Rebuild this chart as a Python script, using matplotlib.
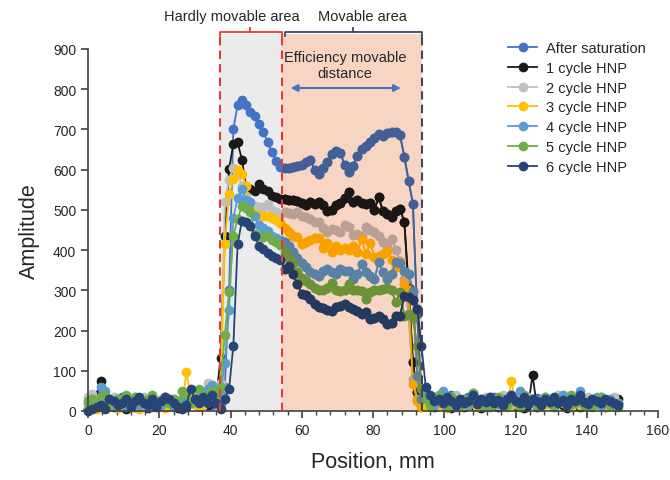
import numpy as np
import matplotlib as mpl
mpl.use('Agg')
import matplotlib.pyplot as plt
from matplotlib.patches import Rectangle, FancyArrowPatch
from matplotlib.colors import to_rgb

plt.rcParams['font.family'] = ['Liberation Sans', 'DejaVu Sans']

# scan positions, mm (about 1.2 mm step, 125 points)
position = np.arange(125) * 1.2

labels = ["After saturation", "1 cycle HNP", "2 cycle HNP", "3 cycle HNP",
          "4 cycle HNP", "5 cycle HNP", "6 cycle HNP"]
colors = ["#4472C4", "#1A1A1A", "#BFBFBF", "#FFC000", "#5B9BD5", "#70AD47", "#264478"]

# each series: left baseline (0-35 mm), sample region (36-94 mm), right baseline (95-149 mm)
after_sat_left = [5, 10, 25, 35, 30, 20, 15, 28, 35, 25, 18, 30, 22, 15, 25, 32, 20, 12, 18, 28,
                  25, 15, 20, 30, 22, 18, 25, 30, 20, 15]
after_sat_mid = [25, 20, 60, 300, 700, 762, 772, 760, 744, 734, 714, 693, 670, 643, 622, 606, 604, 605,
                 606, 608, 612, 620, 624, 600, 590, 605, 620, 638, 647, 642, 612, 593, 610, 635, 652,
                 658, 670, 678, 688, 684, 692, 694, 694, 685, 632, 572, 515, 240, 40]
after_sat_right = [30, 20, 35, 25, 15, 30, 40, 22, 18, 28, 35, 20, 25, 30, 15, 22, 35, 28, 20, 18,
                   30, 25, 35, 20, 15, 28, 32, 22, 18, 25, 30, 20, 35, 28, 15, 22, 30, 25, 18, 20,
                   28, 35, 22, 15, 25, 20]

cyc1_left = [5, 15, 40, 75, 30, 20, 10, 25, 15, 5, 20, 10, 25, 15, 8, 20, 12, 25, 10, 18,
             15, 8, 22, 10, 25, 30, 12, 20, 15, 25]
cyc1_mid = [30, 133, 435, 602, 664, 668, 625, 556, 552, 546, 564, 552, 548, 535, 531, 527, 526, 524,
            524, 522, 518, 512, 519, 514, 519, 512, 498, 500, 513, 516, 530, 545, 520, 524, 518,
            514, 516, 500, 532, 496, 490, 482, 496, 502, 470, 305, 121, 46, 20]
cyc1_right = [15, 25, 10, 20, 30, 12, 8, 22, 18, 10, 25, 15, 20, 8, 12, 25, 18, 10, 22, 15,
              30, 12, 20, 8, 15, 90, 10, 18, 25, 20, 12, 25, 15, 8, 20, 18, 10, 22, 15, 12,
              25, 18, 10, 20, 15, 30]

cyc2_left = [35, 42, 25, 30, 15, 20, 35, 10, 25, 30, 20, 15, 28, 35, 20, 10, 25, 30, 18, 22,
             30, 15, 20, 28, 25, 35, 20, 15, 70, 40]
cyc2_mid = [40, 70, 520, 575, 605, 590, 560, 535, 515, 510, 508, 506, 515, 500, 495, 490, 494, 492,
            490, 495, 486, 482, 478, 470, 469, 455, 444, 452, 450, 444, 462, 457, 437, 440, 436,
            457, 450, 444, 436, 420, 407, 428, 400, 374, 328, 240, 80, 30, 15]
cyc2_right = [20, 30, 15, 25, 35, 18, 22, 40, 28, 15, 20, 30, 25, 12, 35, 22, 18, 28, 40, 20,
              15, 25, 30, 22, 35, 18, 20, 28, 15, 25, 30, 40, 22, 18, 25, 30, 15, 20, 35, 28,
              22, 18, 30, 25, 35, 20]

cyc3_left = [10, 20, 5, 15, 25, 10, 20, 8, 15, 30, 12, 20, 5, 18, 25, 10, 15, 20, 8, 12,
             22, 15, 10, 96, 40, 18, 12, 20, 25, 35]
cyc3_mid = [30, 50, 415, 540, 577, 598, 588, 560, 500, 490, 486, 486, 484, 480, 476, 468, 455, 446,
            436, 432, 415, 420, 425, 430, 430, 405, 418, 395, 410, 400, 405, 400, 410, 395, 428,
            390, 418, 382, 385, 390, 397, 375, 357, 370, 315, 300, 67, 26, 10]
cyc3_right = [25, 10, 20, 15, 30, 8, 18, 25, 12, 20, 15, 28, 10, 22, 18, 12, 25, 15, 20, 10,
              75, 18, 12, 20, 30, 25, 15, 10, 22, 18, 12, 25, 20, 15, 10, 28, 18, 22, 12, 15,
              25, 20, 10, 18, 15, 20]

cyc4_left = [20, 30, 15, 60, 50, 25, 15, 30, 20, 10, 25, 35, 15, 20, 10, 30, 25, 15, 35, 20,
             10, 25, 30, 15, 20, 28, 35, 40, 55, 65]
cyc4_mid = [35, 40, 120, 250, 480, 530, 552, 525, 520, 486, 462, 455, 448, 436, 430, 425, 419, 411,
            395, 380, 368, 358, 345, 340, 336, 349, 353, 345, 340, 353, 348, 349, 328, 340, 365,
            345, 335, 328, 370, 345, 328, 340, 370, 368, 349, 340, 299, 88, 30]
cyc4_right = [40, 25, 15, 30, 50, 20, 35, 10, 25, 30, 15, 45, 20, 28, 12, 35, 25, 18, 30, 15,
              40, 22, 50, 18, 25, 30, 12, 20, 35, 28, 15, 22, 40, 25, 18, 30, 50, 15, 20, 28,
              35, 12, 25, 30, 15, 20]

cyc5_left = [25, 30, 20, 35, 40, 15, 25, 30, 20, 40, 15, 35, 25, 20, 30, 40, 15, 25, 35, 20,
             30, 15, 50, 40, 20, 30, 55, 25, 40, 50]
cyc5_mid = [40, 60, 190, 295, 436, 477, 510, 505, 495, 440, 436, 432, 436, 425, 420, 412, 395, 380,
            368, 345, 330, 322, 315, 305, 300, 300, 305, 318, 300, 298, 300, 316, 300, 300, 298,
            278, 295, 300, 300, 303, 307, 300, 270, 295, 235, 241, 230, 162, 55]
cyc5_right = [30, 15, 25, 40, 20, 10, 35, 25, 15, 30, 20, 45, 25, 15, 30, 10, 25, 35, 20, 15,
              30, 25, 10, 40, 20, 30, 15, 25, 35, 20, 10, 30, 25, 15, 40, 20, 30, 15, 25, 10,
              20, 35, 25, 15, 20, 10]

cyc6_left = [0, 5, 10, 15, 5, 30, 25, 15, 20, 30, 10, 25, 35, 20, 15, 30, 10, 25, 35, 30,
             20, 10, 5, 15, 55, 30, 20, 35, 20, 40]
cyc6_mid = [20, 5, 30, 55, 162, 415, 473, 470, 461, 436, 411, 403, 394, 386, 380, 375, 353, 361,
            340, 315, 291, 288, 278, 265, 258, 255, 250, 249, 258, 262, 266, 258, 254, 248, 241,
            245, 229, 232, 237, 228, 216, 220, 235, 237, 287, 283, 276, 254, 162]
cyc6_right = [60, 40, 25, 30, 20, 35, 25, 15, 30, 20, 25, 40, 18, 30, 22, 35, 20, 28, 15, 30,
              40, 25, 20, 35, 18, 30, 25, 15, 30, 22, 35, 20, 28, 15, 30, 25, 40, 22, 18, 30,
              25, 20, 30, 25, 20, 15]

series = [
    after_sat_left + after_sat_mid + after_sat_right,
    cyc1_left + cyc1_mid + cyc1_right,
    cyc2_left + cyc2_mid + cyc2_right,
    cyc3_left + cyc3_mid + cyc3_right,
    cyc4_left + cyc4_mid + cyc4_right,
    cyc5_left + cyc5_mid + cyc5_right,
    cyc6_left + cyc6_mid + cyc6_right,
]

# zones, mm
hard_zone = (37.0, 54.4)
move_zone = (54.4, 93.8)
zone_top = 938

pink = "#F8D5C3"
grey = "#EBEBEB"
red = "#E53A2F"
navy = "#3E4668"
txt = "#262626"

fig = plt.figure(figsize=(6.7, 4.81), dpi=100)
ax = fig.add_axes([88/670, 69/481, 570/670, 362/481])

ax.add_patch(Rectangle((hard_zone[0], 0), hard_zone[1]-hard_zone[0], zone_top,
                       facecolor=grey, edgecolor='none', zorder=0.5, clip_on=False))
ax.add_patch(Rectangle((move_zone[0], 0), move_zone[1]-move_zone[0], zone_top,
                       facecolor=pink, edgecolor='none', zorder=0.5, clip_on=False))

mk = dict(lw=1.3, ms=6.0)
for i, (vals, lab, c) in enumerate(zip(series, labels, colors)):
    ax.plot(position, vals, '-o', color=c, label=lab, zorder=2+i*0.01, clip_on=False, **mk)

# the shaded box is blended (multiply) over the data in the reference
clip = Rectangle((move_zone[0], -50), move_zone[1]-move_zone[0], zone_top+50, transform=ax.transData)
pr = np.array(to_rgb(pink))
for i, (vals, c) in enumerate(zip(series, colors)):
    mc = np.array(to_rgb(c)) * pr
    ln, = ax.plot(position, vals, '-o', color=mc, zorder=3+i*0.01, clip_on=False, **mk)
    ln.set_clip_path(clip)
    ln.set_clip_on(True)

# dashed boundaries + brackets
dash = dict(lw=1.5, ls=(0, (4, 2.5)), zorder=5, clip_on=False)
ax.plot([hard_zone[0]]*2, [0, 934], color=red, **dash)
ax.plot([hard_zone[1]]*2, [0, 934], color=red, **dash)
ax.plot([move_zone[1]]*2, [0, 934], color=navy, **dash)

br = dict(lw=1.3, zorder=5, clip_on=False)
ax.plot([37.0, 37.0, 54.4, 54.4], [932, 942, 942, 932], color=red, **br)
ax.plot([45.5, 45.5], [942, 952], color=red, **br)
ax.plot([55.3, 55.3, 93.8, 93.8], [932, 942, 942, 932], color=navy, **br)
ax.plot([74.5, 74.5], [942, 952], color=navy, **br)

ax.text(40.4, 982, "Hardly movable area", ha='center', va='center', fontsize=10.5, color=txt)
ax.text(76.9, 982, "Movable area", ha='center', va='center', fontsize=10.5, color=txt)
ax.text(72.2, 861, "Efficiency movable\ndistance", ha='center', va='center', fontsize=10.5,
        color=txt, linespacing=1.15, zorder=6)
ax.add_patch(FancyArrowPatch((56.1, 803), (88.6, 803), arrowstyle='<|-|>', mutation_scale=10,
                             lw=1.5, color="#4472C4", zorder=6))

ax.set_xlim(0, 160)
ax.set_ylim(0, 900)
ax.set_xticks(np.arange(0, 161, 20))
ax.set_xticks(np.arange(0, 161, 4), minor=True)
ax.set_yticks(np.arange(0, 901, 100))
for s in ['top', 'right']:
    ax.spines[s].set_visible(False)
for s in ['left', 'bottom']:
    ax.spines[s].set_color('#404040')
    ax.spines[s].set_linewidth(1.2)
ax.tick_params(which='major', length=5, width=1.2, color='#404040', labelsize=10, labelcolor=txt)
ax.tick_params(which='minor', length=3, width=1.0, color='#404040')
ax.set_xlabel("Position, mm", fontsize=15.5, color=txt, labelpad=10)
ax.set_ylabel("Amplitude", fontsize=15.5, color=txt, labelpad=9)

leg = ax.legend(loc='upper left', bbox_to_anchor=(508/670, 1-42/481), bbox_transform=fig.transFigure,
                frameon=False, fontsize=10.5, handlelength=2.0, handletextpad=0.6,
                labelspacing=0.4, borderpad=0, borderaxespad=0)
for t in leg.get_texts():
    t.set_color(txt)

fig.savefig("out.png", dpi=100)
